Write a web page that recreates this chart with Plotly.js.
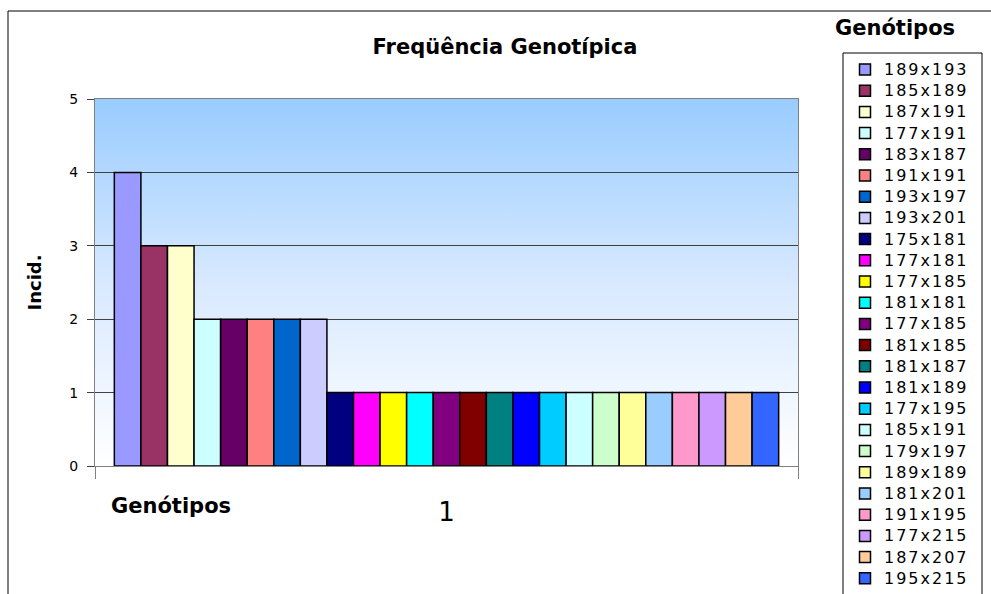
<!DOCTYPE html>
<html>
<head>
<meta charset="utf-8">
<script src="https://cdn.plot.ly/plotly-3.0.1.min.js"></script>
<style>
  html, body { margin: 0; padding: 0; background: #fff; }
  #chart { width: 991px; height: 594px; }
</style>
</head>
<body>
<div id="chart"></div>
<script>
// Genotype frequencies (one category, one bar per genotype)
const category = ['1'];
const genotypes = [
  '189x193', '185x189', '187x191', '177x191', '183x187', '191x191', '193x197', '193x201',
  '175x181', '177x181', '177x185', '181x181', '177x185', '181x185', '181x187', '181x189',
  '177x195', '185x191', '179x197', '189x189', '181x201', '191x195', '177x215', '187x207', '195x215'
];
const incidence = [4, 3, 3, 2, 2, 2, 2, 2, 1, 1, 1, 1, 1, 1, 1, 1, 1, 1, 1, 1, 1, 1, 1, 1, 1];
const colors = [
  '#9999FF', '#993366', '#FFFFCC', '#CCFFFF', '#660066', '#FF8080', '#0066CC', '#CCCCFF',
  '#000080', '#FF00FF', '#FFFF00', '#00FFFF', '#800080', '#800000', '#008080', '#0000FF',
  '#00CCFF', '#CCFFFF', '#CCFFCC', '#FFFF99', '#99CCFF', '#FF99CC', '#CC99FF', '#FFCC99', '#3366FF'
];
const yTicks = [0, 1, 2, 3, 4, 5];

// Page geometry (pixels)
const W = 991, H = 594;
const M = { l: 95, r: 193, t: 99, b: 128 };
const PW = W - M.l - M.r, PH = H - M.t - M.b;
const px = x => (x - M.l) / PW;          // pixel x -> paper x
const py = y => (H - M.b - y) / PH;      // pixel y -> paper y

const FONT = 'DejaVu Sans, Verdana, Arial, sans-serif';
const LABEL_TRACKING = 2;                // extra letter spacing of legend labels, px

const traces = genotypes.map((g, i) => ({
  type: 'bar',
  x: category,
  y: [incidence[i]],
  name: g,
  marker: { color: colors[i], line: { color: '#000', width: 1.5 } },
  showlegend: false,
  hoverinfo: 'name+y'
}));

// Vertical gradient behind the plot area
const gradSvg =
  '<svg xmlns="http://www.w3.org/2000/svg" width="10" height="100" preserveAspectRatio="none">' +
  '<defs><linearGradient id="g" x1="0" y1="0" x2="0" y2="1">' +
  '<stop offset="0" stop-color="#99CCFF"/>' +
  '<stop offset="0.5" stop-color="#D8E9FF"/>' +
  '<stop offset="1" stop-color="#FFFFFF"/>' +
  '</linearGradient></defs>' +
  '<rect width="10" height="100" fill="url(#g)"/></svg>';

const shapes = [];
const annotations = [];

// Outer chart frame
shapes.push({
  type: 'rect', xref: 'paper', yref: 'paper',
  x0: px(8), x1: px(1010), y0: py(620), y1: py(11),
  line: { color: '#000', width: 1 }, fillcolor: 'rgba(0,0,0,0)'
});

// Legend box, swatches and labels
shapes.push({
  type: 'rect', xref: 'paper', yref: 'paper',
  x0: px(843), x1: px(982), y0: py(620), y1: py(53),
  line: { color: '#000', width: 1 }, fillcolor: '#fff'
});
const legTop = 69.5, legStep = 21.2, sw = 11;
genotypes.forEach((g, i) => {
  const yc = legTop + i * legStep;
  shapes.push({
    type: 'rect', xref: 'paper', yref: 'paper',
    x0: px(865 - sw / 2), x1: px(865 + sw / 2), y0: py(yc + sw / 2), y1: py(yc - sw / 2),
    line: { color: '#000', width: 1.5 }, fillcolor: colors[i]
  });
  // shifted right by half the added tracking, since the label grows about its centre
  annotations.push({
    xref: 'paper', yref: 'paper', x: px(883 + g.length * LABEL_TRACKING / 2), y: py(yc),
    xanchor: 'left', yanchor: 'middle', showarrow: false, borderpad: 0,
    text: g, font: { family: FONT, size: 16, color: '#000' }
  });
});
annotations.push({
  xref: 'paper', yref: 'paper', x: px(895), y: py(28),
  xanchor: 'center', yanchor: 'middle', showarrow: false,
  text: '<b>Genótipos</b>', font: { family: FONT, size: 21, color: '#000' }
});

// Category caption under the axis
annotations.push({
  xref: 'paper', yref: 'paper', x: px(171), y: py(506),
  xanchor: 'center', yanchor: 'middle', showarrow: false,
  text: '<b>Genótipos</b>', font: { family: FONT, size: 21, color: '#000' }
});

const layout = {
  width: W, height: H,
  margin: M,
  paper_bgcolor: '#fff',
  plot_bgcolor: 'rgba(0,0,0,0)',
  font: { family: FONT, color: '#000' },
  title: {
    text: '<b>Freqüência Genotípica</b>',
    font: { family: FONT, size: 21, color: '#000' },
    xref: 'container', yref: 'container',
    x: 505 / W, y: 1 - 47 / H, xanchor: 'center', yanchor: 'middle'
  },
  barmode: 'group',
  bargap: 0.055,
  bargroupgap: 0,
  xaxis: {
    type: 'category',
    range: [-0.5, 0.5],
    showgrid: false,
    zeroline: false,
    showline: true, mirror: true, linecolor: '#808080', linewidth: 1,
    ticks: 'outside', tickson: 'boundaries', ticklen: 12, tickcolor: '#808080', tickwidth: 1,
    tickfont: { family: FONT, size: 26, color: '#000' },
    ticklabelstandoff: 23,
    fixedrange: true
  },
  yaxis: {
    range: [0, 5],
    tickvals: yTicks,
    ticktext: yTicks.map(String),
    showgrid: true, gridcolor: '#404040', gridwidth: 1,
    zeroline: false,
    showline: true, mirror: true, linecolor: '#808080', linewidth: 1,
    ticks: 'outside', ticklen: 7, tickcolor: '#404040', tickwidth: 1,
    tickfont: { family: FONT, size: 14, color: '#000' },
    ticklabelstandoff: 6,
    title: { text: '<b>Incid.</b>', font: { family: FONT, size: 18, color: '#000' }, standoff: 22 },
    fixedrange: true
  },
  images: [{
    source: 'data:image/svg+xml;charset=utf-8,' + encodeURIComponent(gradSvg),
    xref: 'paper', yref: 'paper', x: 0, y: 1, sizex: 1, sizey: 1,
    sizing: 'stretch', xanchor: 'left', yanchor: 'top', layer: 'below'
  }],
  shapes: shapes,
  annotations: annotations
};

Plotly.newPlot('chart', traces, layout, { displayModeBar: false, staticPlot: true }).then(gd => {
  // Loosen the tracking of the legend labels a little
  const names = new Set(genotypes);
  gd.querySelectorAll('.annotation-text').forEach(t => {
    if (names.has(t.textContent)) t.style.letterSpacing = LABEL_TRACKING + 'px';
  });
});
</script>
</body>
</html>
